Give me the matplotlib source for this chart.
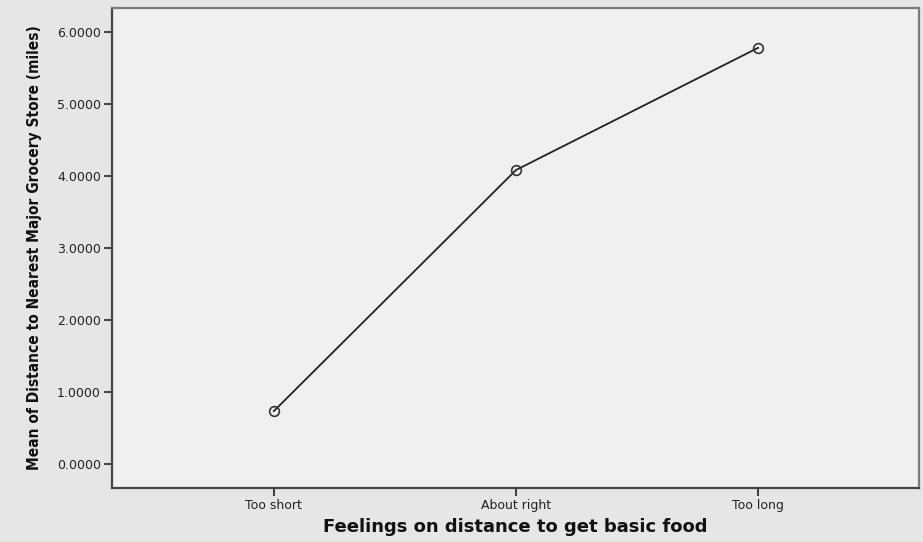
import matplotlib
matplotlib.use("Agg")
import matplotlib.pyplot as plt
from matplotlib import font_manager

categories = ["Too short", "About right", "Too long"]
means = [0.736, 4.083, 5.78]
yticks = [0.0, 1.0, 2.0, 3.0, 4.0, 5.0, 6.0]

# look for a condensed bold face for the y label
cond = None
for f in font_manager.fontManager.ttflist:
    if f.weight in ("bold", 700) and ("ondensed" in f.fname or "Narrow" in f.name) \
            and f.style == "normal":
        cond = f.fname
        break
if cond:
    ylab_font = font_manager.FontProperties(fname=cond, size=11.1)
else:
    ylab_font = font_manager.FontProperties(family="DejaVu Sans", weight="bold", size=9.5)

fig = plt.figure(figsize=(9.23, 5.42), dpi=100, facecolor="#e6e6e6")
ax = fig.add_axes([0.1213, 0.0996, 0.8744, 0.8856])
ax.set_facecolor("#f0f0f0")

x = list(range(len(categories)))
ax.plot(x, means, color="#222222", lw=1.3, marker="o", ms=7,
        mfc="none", mec="#333333", mew=1.2)

ax.set_xlim(-0.669, 2.665)
ax.set_ylim(-0.333, 6.333)
ax.set_xticks(x)
ax.set_xticklabels(categories, fontsize=9, color="#222222")
ax.set_yticks(yticks)
ax.set_yticklabels([f"{v:.4f}" for v in yticks], fontsize=9, color="#222222")
ax.tick_params(axis="both", length=6, width=1.5, color="#444444", pad=2)

for side in ["left", "bottom"]:
    ax.spines[side].set_color("#444444")
    ax.spines[side].set_linewidth(1.6)
for side in ["top", "right"]:
    ax.spines[side].set_color("#7a7a7a")
    ax.spines[side].set_linewidth(1.6)

ax.set_xlabel("Feelings on distance to get basic food", fontsize=13,
              fontweight="bold", color="#111111", labelpad=4)
ax.set_ylabel("Mean of Distance to Nearest Major Grocery Store (miles)",
              fontproperties=ylab_font, color="#111111", labelpad=11)

fig.savefig("out.png", dpi=100, facecolor=fig.get_facecolor())
